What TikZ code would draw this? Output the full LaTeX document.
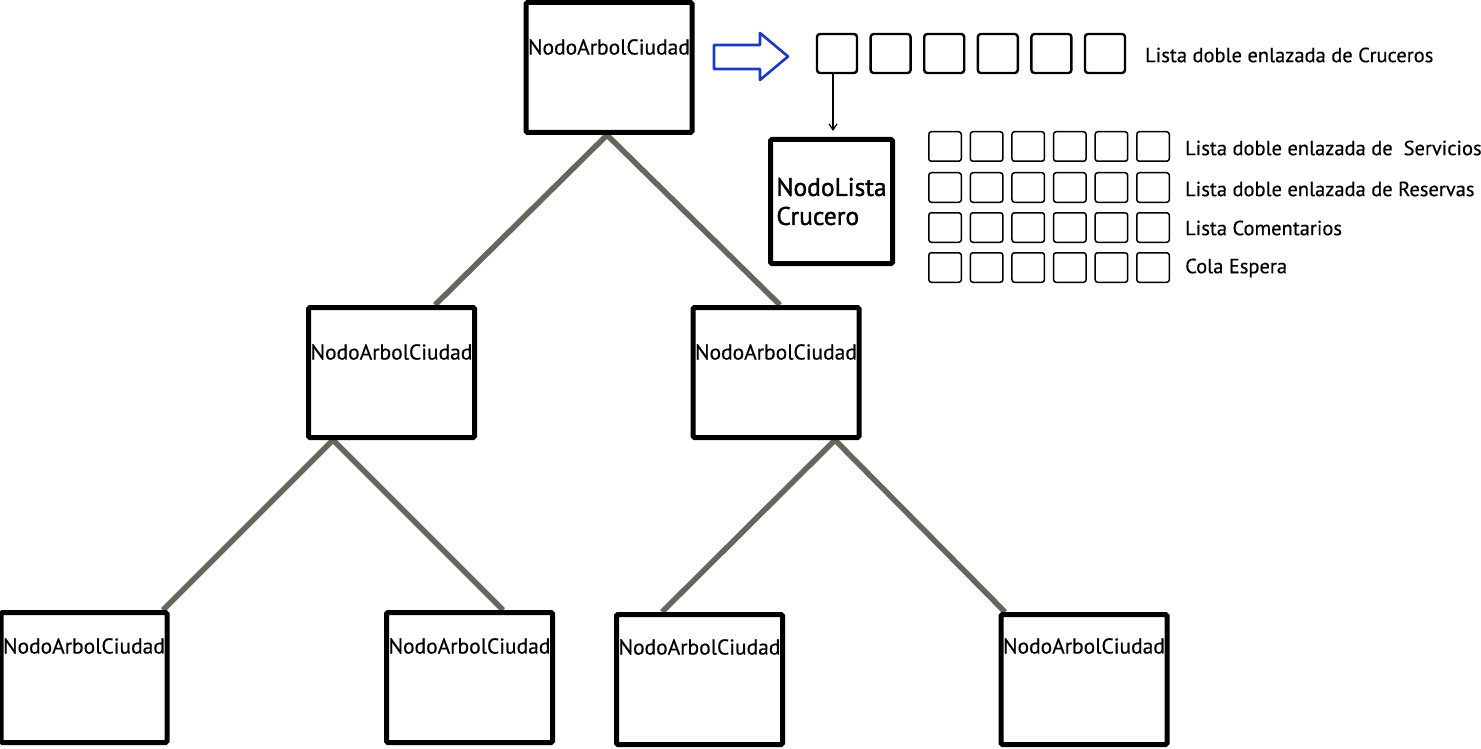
\documentclass[tikz,border=0pt]{standalone}
\usepackage{fontspec}
\setmainfont{PT Sans}[FakeBold=0.4]
\usetikzlibrary{calc,arrows.meta,backgrounds}
\definecolor{edgegray}{RGB}{102,102,90}
\definecolor{arrowblue}{RGB}{28,58,190}
\begin{document}
\begin{tikzpicture}[x=1pt,y=-1pt,
  treebox/.style 2 args={draw=black,line width=5pt,fill=white,rounded corners=1.5pt,
    minimum width=166pt,minimum height=130pt,inner sep=0pt,
    label={[anchor=center,yshift=-#2,font=\fontsize{21.5}{24}\selectfont]north:#1}},
  treeedge/.style={draw=edgegray,line width=5.5pt},
  bigbox/.style={draw=black,line width=2.4pt,fill=white,rounded corners=3pt,
    minimum width=40pt,minimum height=39pt,inner sep=0pt},
  smallbox/.style={draw=black,line width=1.5pt,fill=white,rounded corners=2.5pt,
    minimum width=32.5pt,minimum height=29.5pt,inner sep=0pt},
  listlabel/.style={anchor=west,inner sep=0pt,font=\fontsize{20.5}{23}\selectfont},
  nodelist/.style={draw=black,line width=5pt,fill=white,rounded corners=1.5pt,
    minimum width=122pt,minimum height=124pt,inner sep=0pt,align=left,
    font=\fontsize{25.5}{29}\selectfont\addfontfeature{FakeBold=1.4}},
  thinarrow/.style={draw=black,line width=1.2pt,-{Straight Barb[length=6pt,width=8pt]}},
]
\useasboundingbox (0,0) rectangle (1481,749);

% binary tree of cities
\node[treebox={NodoArbolCiudad}{47pt}] (t1) at (609,67.5) {};
\node[treebox={NodoArbolCiudad}{47pt}] (t2) at (391.5,372.5) {};
\node[treebox={NodoArbolCiudad}{47pt}] (t3) at (776,372.5) {};
\node[treebox={NodoArbolCiudad}{36pt}] (t4) at (84,677.5) {};
\node[treebox={NodoArbolCiudad}{36pt}] (t5) at (469.5,677.5) {};
\node[treebox={NodoArbolCiudad}{35pt}] (t6) at (699.5,679.5) {};
\node[treebox={NodoArbolCiudad}{34pt}] (t7) at (1084,679.5) {};

% tree edges, behind the boxes
\begin{scope}[on background layer]
\draw[treeedge] ($(t1.south)+(-2,0)$) -- ($(t2.north)+(43.5,0)$);
\draw[treeedge] ($(t1.south)+(-2,0)$) -- ($(t3.north)+(4,0)$);
\draw[treeedge] ($(t2.south)+(-58.5,0)$) -- ($(t4.north)+(79,0)$);
\draw[treeedge] ($(t2.south)+(-58.5,0)$) -- ($(t5.north)+(33.5,0)$);
\draw[treeedge] ($(t3.south)+(59,0)$) -- ($(t6.north)+(-37.5,0)$);
\draw[treeedge] ($(t3.south)+(59,0)$) -- ($(t7.north)+(-79,0)$);
\end{scope}

% hollow arrow to the list of cruises
\draw[arrowblue,line width=2.6pt,line join=round,fill=white]
  (714,45) -- (760,45) -- (760,33) -- (788,56.5) -- (760,80) -- (760,69) -- (714,69) -- cycle;

% doubly linked list of cruises
\foreach \i in {0,...,5}
  \node[bigbox] (c\i) at (837+53.6*\i,53.5) {};
\node[listlabel] (lc) at (1145,55) {Lista doble enlazada de Cruceros};

% cruise list node
\node[nodelist] (nl) at (831.5,201.5) {NodoLista\\Crucero};
\coordinate (a0) at ($(c0.south)+(-4,0)$);
\draw[thinarrow,shorten >=6pt] (a0) -- (a0 |- nl.north);

% inner lists of the cruise node
\foreach \r/\y in {0/146.5,1/187.5,2/227.5,3/267.5}
  \foreach \i in {0,...,5}
    \node[smallbox] (s\r\i) at (945+41.6*\i,\y) {};
\node[listlabel] (l0) at (1185,148) {Lista doble enlazada de\ \ Servicios};
\node[listlabel] (l1) at (1185,189) {Lista doble enlazada de Reservas};
\node[listlabel] (l2) at (1185,228) {Lista Comentarios};
\node[listlabel] (l3) at (1185,268) {Cola Espera};
\end{tikzpicture}
\end{document}
